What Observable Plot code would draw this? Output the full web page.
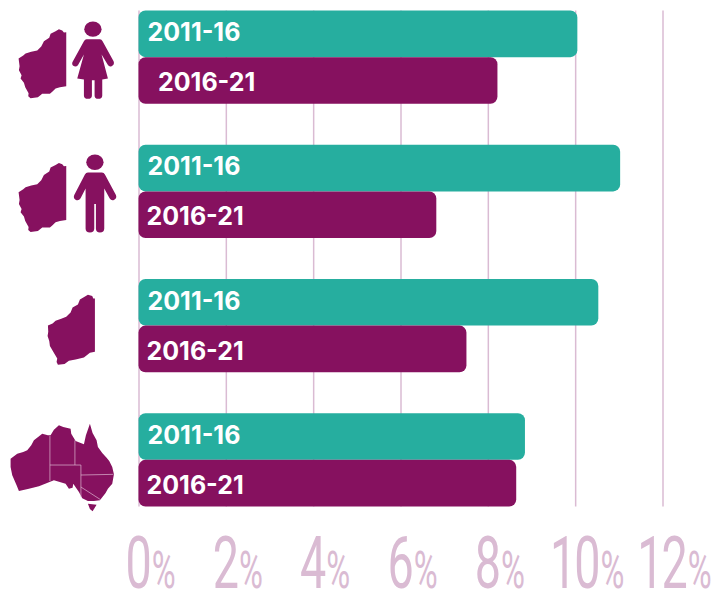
<!DOCTYPE html>
<html><head><meta charset="utf-8">
<style>html,body{margin:0;padding:0;background:#fff}svg{display:block}</style>
<script src="https://cdn.jsdelivr.net/npm/d3@7"></script>
<script src="https://cdn.jsdelivr.net/npm/@observablehq/plot@0.6"></script>
</head><body><div id="chart"></div>
<script>
const groups = ["WA women", "WA men", "WA", "Australia"];
const periods = ["2011-16", "2016-21"];
const values2011 = [10.05, 11.03, 10.53, 8.85];
const values2016 = [8.22, 6.82, 7.51, 8.65];
const ticks = [0, 2, 4, 6, 8, 10, 12];
const TEAL = "#26AE9F", PURPLE = "#86115F", PINK = "#DABBD3";

const rows2011 = groups.map((g, i) => ({group: g, period: periods[0], value: values2011[i]}));
const rows2016 = groups.map((g, i) => ({group: g, period: periods[1], value: values2016[i]}));

// pictograms
const waA = "M197 93L197 255L178 258L165 262L155 272L148 278L125 278L112 288L90 291L83 285L84 276L74 258L70 245L60 232L63 222L55 207L57 195L54 172L68 163L75 157L92 152L110 148L122 136L130 120L146 110L150 98L165 90L175 84L185 88L190 94Z";
const waB = "M283 85L283 245L268 248L250 262L225 268L205 272L192 282L172 284L168 276L170 265L158 245L148 228L146 213L141 198L143 185L142 166L156 160L165 152L182 146L197 140L210 127L216 112L232 103L238 88L252 80L262 74L275 78L278 85Z";
const woman = `<ellipse cx="277" cy="84" rx="26" ry="23"/><path d="M258 114L298 114Q303 114 306 120L339 180Q343 190 333 195Q326 198 321 190L303 160L322 232L305 235L305 283Q305 293 293 293Q282 293 282 283L282 237L274 237L274 283Q274 293 262 293Q250 293 250 283L250 235L230 232L250 160L232 192Q226 199 218 194Q212 188 217 180L250 120Q253 114 258 114Z"/>`;
const man = `<ellipse cx="283" cy="487" rx="26" ry="23"/><path d="M262 518L304 518Q310 518 313 524L346 585Q350 595 340 600Q332 603 327 595L311 566L311 686Q311 698 298 698Q286 698 286 686L286 612L281 612L281 686Q281 698 268 698Q255 698 255 686L255 566L240 595Q235 603 226 600Q217 595 221 585L253 524Q256 518 262 518Z"/>`;
const ausOutline = "M30 565L50 550L68 545L80 540L92 525L100 510L125 490L142 495L150 495L160 478L175 465L188 470L210 475L212 490L225 512L250 522L256 495L268 460L276 488L288 510L292 530L305 548L318 562L326 572L335 590L340 612L335 640L322 655L315 668L298 690L280 692L262 692L245 684L235 665L218 640L216 652L205 655L195 640L160 630L115 648L85 655L55 662L48 645L35 615L30 590Z M262 700L288 703L276 723L268 716Z";
const ausLines = `<path d="M148 497L148 632M148 584L241 584M223 584L223 510M241 584L241 680M241 614L338 612M241 650L300 688" fill="none" stroke="#E3BFD8" stroke-width="2"/>`;
const svgIcon = (cy, body) => "data:image/svg+xml," + encodeURIComponent(
  `<svg xmlns="http://www.w3.org/2000/svg" viewBox="0 ${cy - 201} 415 402" width="415" height="402"><g fill="${PURPLE}">${body}</g></svg>`);
const icons = [
  {group: groups[0], src: svgIcon(169.5, `<path d="${waA}"/>${woman}`)},
  {group: groups[1], src: svgIcon(576, `<g transform="translate(0 405)"><path d="${waA}"/></g>${man}`)},
  {group: groups[2], src: svgIcon(168, `<path d="${waB}"/>`)},
  {group: groups[3], src: svgIcon(570, `<path d="${ausOutline}"/>${ausLines}`)}
];

const tickRender = (index, scales, values, dims, context, next) => {
  const g = next(index, scales, values, dims, context);
  g.querySelectorAll("text").forEach(t => {
    const s = t.textContent;
    t.textContent = s.slice(0, -1);
    const span = document.createElementNS("http://www.w3.org/2000/svg", "tspan");
    span.textContent = "%";
    span.setAttribute("font-size", 51);
    span.setAttribute("dx", 3);
    t.appendChild(span);
    t.setAttribute("letter-spacing", -3);
    t.setAttribute("transform", t.getAttribute("transform") + " scale(0.64,1)");
  });
  return g;
};

const labelBase = {x: () => 0, y: "group", text: "period", textAnchor: "start",
  fill: "#fff", fontWeight: 700, fontSize: 25, fontFamily: "Inter"};

const chart = Plot.plot({
  width: 722, height: 591,
  marginLeft: 138.5, marginRight: 59.5, marginTop: 10.5, marginBottom: 84.5,
  style: {background: "#fff"},
  x: {domain: [0, 12], axis: null},
  y: {domain: groups, axis: null, paddingInner: 0.305, paddingOuter: 0, round: false},
  marks: [
    Plot.ruleX(ticks, {x: d => d, stroke: PINK, strokeWidth: 1.5}),
    Plot.image(icons, {x: () => 0, y: "group", src: "src", width: 138.5, height: 134, dx: -69.25}),
    Plot.barX(rows2011, {x1: () => 0, x2: "value", y: "group", fill: TEAL, rx: 7, insetBottom: 46.65}),
    Plot.barX(rows2016, {x1: () => 0, x2: "value", y: "group", fill: PURPLE, rx: 7, insetTop: 46.65}),
    Plot.text(rows2011, {...labelBase, dx: 8.5, dy: -24.5}),
    Plot.text(rows2016.filter(d => d.group !== groups[0]), {...labelBase, dx: 7.5, dy: 25.5}),
    Plot.text(rows2016.filter(d => d.group === groups[0]), {...labelBase, dx: 19, dy: 25}),
    Plot.text(ticks, {x: d => d, text: d => d + "%", frameAnchor: "bottom", lineAnchor: "bottom",
      dx: 10.5, dy: 81, textAnchor: "middle", fill: PINK, fontSize: 73, fontFamily: "Roboto", fontWeight: 400, render: tickRender})
  ]
});
document.getElementById("chart").appendChild(chart);
</script></body></html>
